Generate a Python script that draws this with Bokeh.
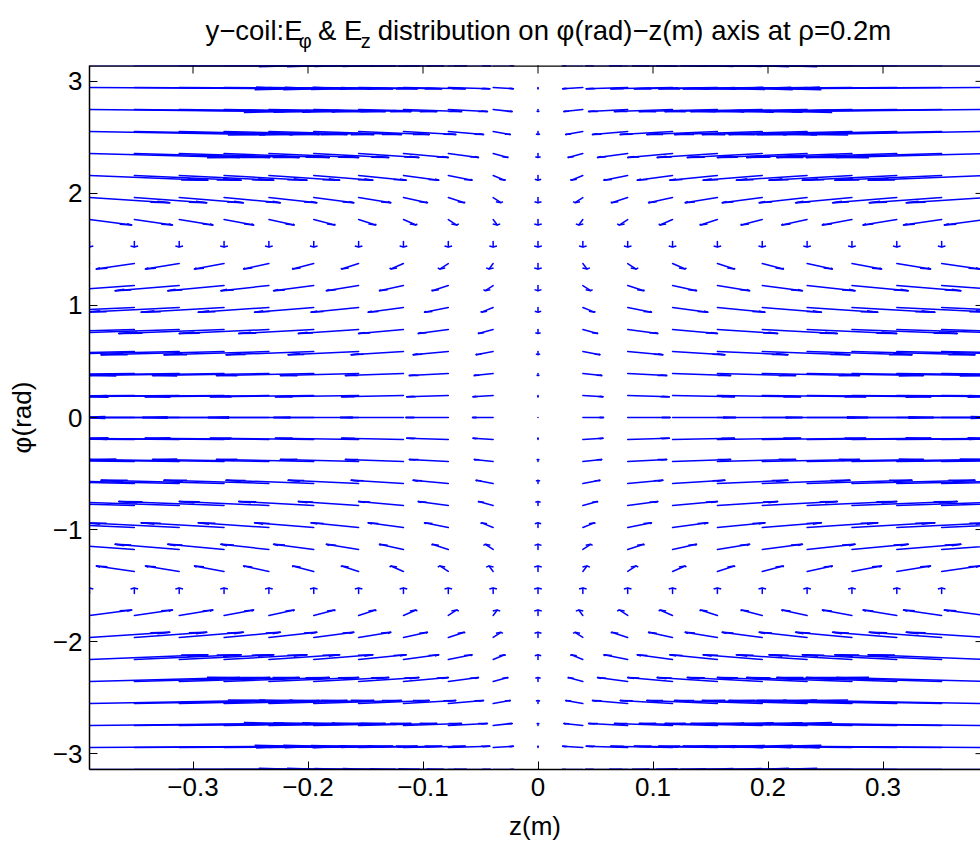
import numpy as np
from bokeh.plotting import figure
from bokeh.models import Range1d, FixedTicker, ColumnDataSource, Span
from bokeh.layouts import column
from bokeh.core.properties import value
from bokeh.embed import file_html
from bokeh.resources import INLINE

# ---- data ----
z_vals = [-0.39, -0.351, -0.312, -0.273, -0.234, -0.195, -0.156, -0.117, -0.078, -0.039, 0.0,
          0.039, 0.078, 0.117, 0.156, 0.195, 0.234, 0.273, 0.312, 0.351, 0.39]
phi_vals = [-3.142, -2.945, -2.749, -2.553, -2.356, -2.160, -1.963, -1.767, -1.571, -1.374, -1.178,
            -0.982, -0.785, -0.589, -0.393, -0.196, 0.0, 0.196, 0.393, 0.589, 0.785, 0.982,
            1.178, 1.374, 1.571, 1.767, 1.963, 2.160, 2.356, 2.553, 2.749, 2.945, 3.142]
# E_z arrow length per column (z-units, where the row profile is 1)
ez_col = [-0.184, -0.166, -0.147, -0.129, -0.110, -0.092, -0.074, -0.055, -0.037, -0.018, 0.0,
          0.018, 0.037, 0.055, 0.074, 0.092, 0.110, 0.129, 0.147, 0.166, 0.184]
# E_z row profile
ez_row = [-1.00, -0.98, -0.92, -0.83, -0.71, -0.56, -0.38, -0.20, 0.00, 0.20, 0.38, 0.56, 0.71,
          0.83, 0.92, 0.98, 1.00, 0.98, 0.92, 0.83, 0.71, 0.56, 0.38, 0.20, 0.00, -0.20, -0.38,
          -0.56, -0.71, -0.83, -0.92, -0.98, -1.00]
# E_phi arrow length per row (rad units)
ephi_row = [0.000, 0.010, 0.019, 0.028, 0.035, 0.042, 0.046, 0.049, 0.050, 0.049, 0.046, 0.042,
            0.035, 0.028, 0.019, 0.010, 0.000, -0.010, -0.019, -0.028, -0.035, -0.042, -0.046,
            -0.049, -0.050, -0.049, -0.046, -0.042, -0.035, -0.028, -0.019, -0.010, 0.000]

x_ticks = [-0.3, -0.2, -0.1, 0.0, 0.1, 0.2, 0.3]
x_tick_labels = ["\u22120.3", "\u22120.2", "\u22120.1", "0", "0.1", "0.2", "0.3"]
y_ticks = [-3, -2, -1, 0, 1, 2, 3]
y_tick_labels = ["\u22123", "\u22122", "\u22121", "0", "1", "2", "3"]

# title split into pieces: (text, is_subscript, leading space)
title_pieces = ["y\u2212coil:E", "\u03c6", "& E", "z",
                "distribution on \u03c6(rad)\u2212z(m) axis at \u03c1=0.2m"]
title_is_sub = [False, True, False, True, False]
title_lead_space = [False, False, True, False, True]

# ---- layout constants ----
FONT = "Liberation Sans"
FS = "26px"
W_TOTAL, H_TOTAL = 980, 847
TITLE_H = 65
LEFT, BOTTOM = 89, 78
X0, X1 = -0.39, -0.39 + (W_TOTAL - LEFT) / 1150.0
Y0, Y1 = -np.pi, np.pi
px_x = (W_TOTAL - LEFT) / (X1 - X0)
px_y = (H_TOTAL - TITLE_H - BOTTOM) / (Y1 - Y0)
TICK = 8

# ---- quiver geometry (MATLAB-like arrows) ----
Z, P = np.meshgrid(np.array(z_vals), np.array(phi_vals))
U = np.outer(np.array(ez_row), np.array(ez_col))
V = np.repeat(np.array(ephi_row)[:, None], len(z_vals), axis=1)
x0 = Z.ravel(); y0 = P.ravel(); u = U.ravel(); v = V.ravel()
alpha, beta = 0.2, 0.33
x1 = x0 + u; y1 = y0 + v
hx1 = x1 - alpha * (u + beta * v); hy1 = y1 - alpha * (v - beta * u)
hx2 = x1 - alpha * (u - beta * v); hy2 = y1 - alpha * (v + beta * u)
src = ColumnDataSource(dict(x0=x0, y0=y0, x1=x1, y1=y1, hx1=hx1, hy1=hy1, hx2=hx2, hy2=hy2))

xr = Range1d(X0, X1)
p = figure(width=W_TOTAL, height=H_TOTAL - TITLE_H, output_backend="svg", toolbar_location=None,
           x_range=xr, y_range=Range1d(Y0, Y1),
           min_border_left=LEFT, min_border_right=0, min_border_top=0, min_border_bottom=BOTTOM)
p.outline_line_color = None
p.xgrid.visible = False
p.ygrid.visible = False

blue = "#0000ff"
LW = 1.5
p.segment("x0", "y0", "x1", "y1", source=src, line_color=blue, line_width=LW, line_cap="round")
p.segment("x1", "y1", "hx1", "hy1", source=src, line_color=blue, line_width=LW)
p.segment("x1", "y1", "hx2", "hy2", source=src, line_color=blue, line_width=LW)

for ax, ticks, labels in ((p.xaxis[0], x_ticks, x_tick_labels), (p.yaxis[0], y_ticks, y_tick_labels)):
    ax.ticker = FixedTicker(ticks=ticks)
    ax.major_label_overrides = {t: s for t, s in zip(ticks, labels)}
    ax.major_tick_in = TICK
    ax.major_tick_out = 0
    ax.minor_tick_line_color = None
    ax.major_tick_line_color = "black"
    ax.axis_line_color = "black"
    ax.axis_line_width = 1.5
    ax.major_label_text_font = FONT
    ax.major_label_text_font_size = FS
    ax.major_label_text_color = "black"
    ax.axis_label_text_font = FONT
    ax.axis_label_text_font_size = FS
    ax.axis_label_text_font_style = "normal"
    ax.axis_label_text_color = "black"

p.xaxis[0].axis_label = "z(m)"
p.xaxis[0].major_label_standoff = 8
p.xaxis[0].axis_label_standoff = 12
p.yaxis[0].axis_label = "\u03c6(rad)"
p.yaxis[0].major_label_standoff = 7
p.yaxis[0].axis_label_standoff = 13

# top spine and the mirrored ticks on top / right (box on)
p.add_layout(Span(location=Y1, dimension="width", line_color="black", line_width=2.5))
xt = np.array(x_ticks, dtype=float)
yt = np.array(y_ticks, dtype=float)
p.segment(x0=xt, y0=np.full_like(xt, Y1), x1=xt, y1=np.full_like(xt, Y1 - TICK / px_y),
          line_color="black", line_width=1)
p.segment(x0=np.full_like(yt, X1), y0=yt, x1=np.full_like(yt, X1 - 5 / px_x), y1=yt,
          line_color="black", line_width=1)

# ---- title strip (text with sub-scripts), sharing the plot's x range ----
t = figure(width=W_TOTAL, height=TITLE_H, output_backend="svg", toolbar_location=None,
           x_range=xr, y_range=Range1d(TITLE_H, 0),
           x_axis_type=None, y_axis_type=None,
           min_border_left=LEFT, min_border_right=0, min_border_top=0, min_border_bottom=0)
t.outline_line_color = None
t.xgrid.visible = False
t.ygrid.visible = False

CW = {'y': 500, '\u2212': 584, 'c': 500, 'o': 556, 'i': 222, 'l': 222, ':': 278, 'E': 667, ' ': 278,
      '&': 667, 'd': 556, 's': 500, 't': 278, 'r': 333, 'b': 556, 'u': 556, 'n': 556, '\u03c6': 620,
      '(': 333, ')': 333, 'a': 556, 'z': 500, 'm': 833, 'x': 500, '\u03c1': 560, '=': 584, '0': 556,
      '.': 278, '2': 556}
MAIN_PX, SUB_PX = 27.5, 20.0
def text_w(s, px):
    return 0.962 * sum(CW.get(c, 556) for c in s) / 1000.0 * px
sizes = [SUB_PX if sb else MAIN_PX for sb in title_is_sub]
advances = []
for s, f, lead in zip(title_pieces, sizes, title_lead_space):
    advances.append(((text_w(" ", f) if lead else 0.0), text_w(s, f)))
total = sum(a + b for a, b in advances)
cur = -total / 2.0                      # pixels relative to z = 0
xs, ys = [], []
for (lead_w, w), sb in zip(advances, title_is_sub):
    cur += lead_w
    xs.append(cur / px_x)
    ys.append(40.0 if sb else 30.0)
    cur += w
tsrc = ColumnDataSource(dict(x=xs, y=ys, text=title_pieces, size=[f"{f:.1f}px" for f in sizes]))
t.text(x="x", y="y", text="text", source=tsrc, text_font=value(FONT), text_font_size="size",
       text_baseline="alphabetic", text_align="left", text_color="black")

layout = column(t, p, spacing=0)
open("out.html", "w").write(file_html(layout, INLINE))
